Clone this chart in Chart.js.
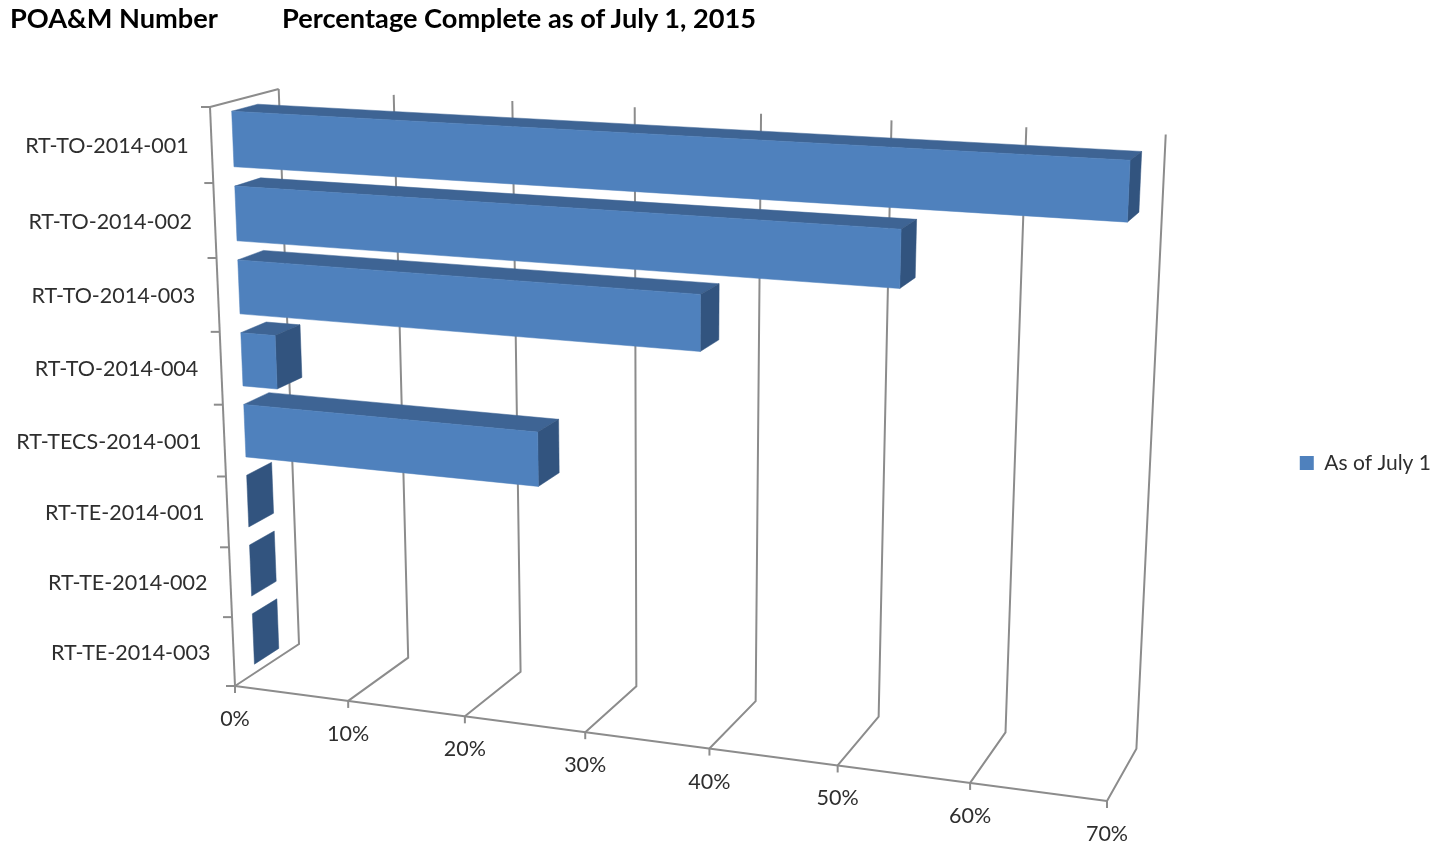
<!DOCTYPE html>
<html>
<head>
<meta charset="utf-8">
<title>POA&amp;M Number</title>
<script src="https://cdn.jsdelivr.net/npm/chart.js@4/dist/chart.umd.min.js"></script>
<style>
    html, body { margin: 0; padding: 0; background: #fff; }
    #wrap { position: relative; width: 1449px; height: 846px; overflow: hidden; }
    #wrap canvas { position: absolute; left: 0; top: 0; }
    .head { position: absolute; top: 1px; font: bold 27.2px Lato, sans-serif; color: #000; white-space: nowrap; }
</style>
</head>
<body>
<div id="wrap">
    <canvas id="chart" width="1449" height="846"></canvas>
    <div class="head" style="left:10px">POA&amp;M Number</div>
    <div class="head" style="left:282px">Percentage Complete as of July 1, 2015</div>
</div>
<script>
var categories = ['RT-TO-2014-001', 'RT-TO-2014-002', 'RT-TO-2014-003', 'RT-TO-2014-004', 'RT-TECS-2014-001', 'RT-TE-2014-001', 'RT-TE-2014-002', 'RT-TE-2014-003'];
var asOfJuly1 = [69, 53, 38, 3, 25, 0, 0, 0];
var seriesName = 'As of July 1';

// the box the plot stands in, as seen on the page
var origin = [235, 686];
var axisU = [872, 115];
var axisV = [-25, -579];
var axisW = [64, -42];
var persp = [-0.105, -0.055, 0.045];
var barDepth = [0.3, 0.68];

var gridColor = '#8c8c8c';
var textColor = '#2e2e2e';
var frontColor = '#4f81bd';
var topColor = '#3e6494';
var sideColor = '#32547f';

function project(u, v, w) {
    var d = 1 + persp[0] * u + persp[1] * v + persp[2] * w;
    var a = u * (1 + persp[0]);
    var b = v * (1 + persp[1]);
    var c = w * (1 + persp[2]);
    return [
        origin[0] + (a * axisU[0] + b * axisV[0] + c * axisW[0]) / d,
        origin[1] + (a * axisU[1] + b * axisV[1] + c * axisW[1]) / d
    ];
}

function polyline(ctx, pts) {
    ctx.beginPath();
    pts.forEach(function (p, i) {
        if (i == 0) ctx.moveTo(p[0], p[1]);
        else ctx.lineTo(p[0], p[1]);
    });
    ctx.stroke();
}

function face(ctx, pts, color) {
    ctx.fillStyle = color;
    ctx.strokeStyle = color;
    ctx.lineWidth = 0.5;
    ctx.beginPath();
    pts.forEach(function (p, i) {
        if (i == 0) ctx.moveTo(p[0], p[1]);
        else ctx.lineTo(p[0], p[1]);
    });
    ctx.closePath();
    ctx.fill();
    ctx.stroke();
}

var box3d = {
    id: 'box3d',
    beforeDatasetsDraw: function (chart) {
        var ctx = chart.ctx;
        var xs = chart.scales.x;
        var ys = chart.scales.y;
        var toU = function (px) { return (px - xs.left) / xs.width; };
        var toV = function (py) { return (ys.bottom - py) / ys.height; };

        ctx.save();
        ctx.strokeStyle = gridColor;
        ctx.lineWidth = 2;

        // left wall and floor edge
        polyline(ctx, [project(0, 1, 0), project(0, 1, 1)]);
        polyline(ctx, [project(0, 0, 0), project(1, 0, 0)]);
        polyline(ctx, [project(0, 0, 0), project(0, 1, 0)]);

        // value gridlines, over the floor and up the back wall
        xs.ticks.forEach(function (t) {
            var u = toU(xs.getPixelForValue(t.value));
            var f = project(u, 0, 0);
            polyline(ctx, [f, project(u, 0, 1), project(u, 1, 1)]);
            polyline(ctx, [f, [f[0], f[1] + 7]]);
        });

        // category tick marks
        for (var i = 0; i <= categories.length; i++) {
            var p = project(0, toV(ys.getPixelForValue(i - 0.5)), 0);
            polyline(ctx, [p, [p[0] - 9, p[1]]]);
        }

        // bars, from the library's own elements
        chart.getDatasetMeta(0).data.forEach(function (bar) {
            var u1 = toU(bar.x);
            var u0 = toU(bar.base);
            var v1 = toV(bar.y - bar.height / 2);
            var v0 = toV(bar.y + bar.height / 2);
            var w0 = barDepth[0];
            var w1 = barDepth[1];
            if (u1 > u0) {
                face(ctx, [project(u0, v1, w0), project(u1, v1, w0), project(u1, v1, w1), project(u0, v1, w1)], topColor);
            }
            face(ctx, [project(u1, v0, w0), project(u1, v1, w0), project(u1, v1, w1), project(u1, v0, w1)], sideColor);
            if (u1 > u0) {
                face(ctx, [project(u0, v0, w0), project(u1, v0, w0), project(u1, v1, w0), project(u0, v1, w0)], frontColor);
            }
        });

        // tick labels
        ctx.fillStyle = textColor;
        ctx.font = '21.5px Lato, sans-serif';
        ctx.textBaseline = 'middle';
        ctx.textAlign = 'right';
        categories.forEach(function (name, i) {
            var p = project(0, toV(ys.getPixelForValue(i)), 0);
            ctx.fillText(name, p[0] - 23, p[1] + 1);
        });
        ctx.textAlign = 'center';
        xs.ticks.forEach(function (t) {
            var p = project(toU(xs.getPixelForValue(t.value)), 0, 0);
            ctx.fillText(t.label, p[0], p[1] + 33);
        });
        ctx.restore();

        // the bars are painted above, skip the flat ones
        return false;
    }
};

var chart = new Chart(document.getElementById('chart'), {
    type: 'bar',
    data: {
        labels: categories,
        datasets: [{
            label: seriesName,
            data: asOfJuly1,
            backgroundColor: frontColor,
            barPercentage: 0.74,
            categoryPercentage: 1
        }]
    },
    plugins: [box3d],
    options: {
        indexAxis: 'y',
        responsive: false,
        animation: false,
        layout: { padding: { top: 80, right: 8 } },
        scales: {
            x: {
                display: false,
                min: 0,
                max: 70,
                ticks: {
                    stepSize: 10,
                    callback: function (v) { return v + '%'; }
                }
            },
            y: { display: false }
        },
        plugins: {
            title: { display: false },
            tooltip: { enabled: false },
            legend: {
                position: 'right',
                labels: {
                    color: textColor,
                    font: { family: 'Lato, sans-serif', size: 21 },
                    boxWidth: 14,
                    boxHeight: 14,
                    padding: 10
                }
            }
        }
    }
});
</script>
</body>
</html>
